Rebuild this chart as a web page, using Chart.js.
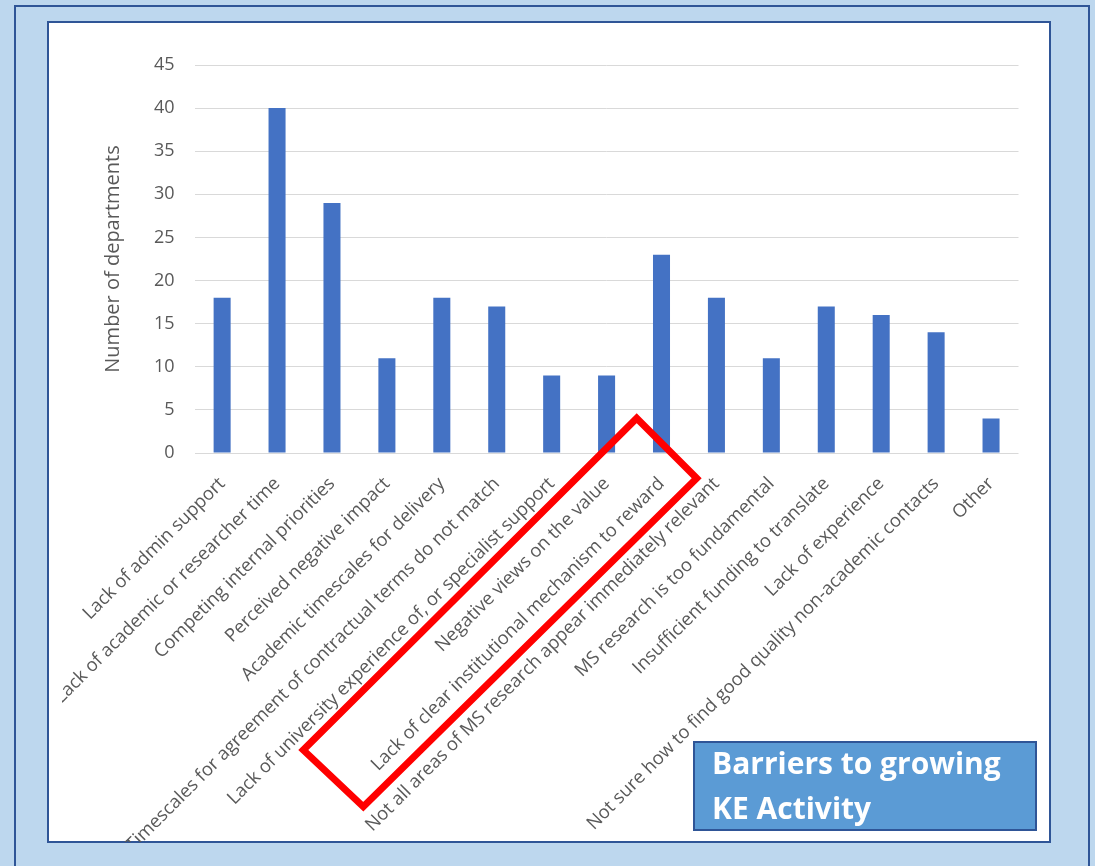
<!DOCTYPE html>
<html>
<head>
<meta charset="utf-8">
<script src="https://cdn.jsdelivr.net/npm/chart.js@4.4.1/dist/chart.umd.min.js"></script>
<style>
  html, body { margin: 0; padding: 0; }
  body { width: 1095px; height: 866px; background: #BDD7EE; position: relative; overflow: hidden; font-family: "Open Sans", sans-serif; }
  #outer { position: absolute; left: 14px; top: 5px; width: 1076px; height: 900px; border: 2px solid #2F5597; box-sizing: border-box; }
  #panel { position: absolute; left: 47px; top: 21px; width: 1004px; height: 822px; background: #fff; border: 2px solid #2F5597; box-sizing: border-box; overflow: hidden; }
  #chart { position: absolute; left: 62px; top: 24px; }
  #note { position: absolute; left: 693px; top: 741px; width: 344px; height: 90px; box-sizing: border-box;
          background: #5B9BD5; border: 2px solid #2F5597; color: #fff; font-family: "Open Sans", sans-serif;
          font-weight: bold; font-size: 30px; line-height: 45px; padding-left: 17px; }
  #note span { position: relative; top: -3px; display: block; white-space: nowrap; }
</style>
</head>
<body>
<div id="outer"></div>
<div id="panel"></div>
<canvas id="chart" width="986" height="818" style="width:986px;height:818px;"></canvas>
<div id="note"><span>Barriers to growing<br>KE Activity</span></div>
<script>
const categories = [
  "Lack of admin support",
  "Lack of academic or researcher time",
  "Competing internal priorities",
  "Perceived negative impact",
  "Academic timescales for delivery",
  "Timescales for agreement of contractual terms do not match",
  "Lack of university experience of, or specialist support",
  "Negative views on the value",
  "Lack of clear institutional mechanism to reward",
  "Not all areas of MS research appear immediately relevant",
  "MS research is too fundamental",
  "Insufficient funding to translate",
  "Lack of experience",
  "Not sure how to find good quality non-academic contacts",
  "Other"
];
const departments = [18, 40, 29, 11, 18, 17, 9, 9, 23, 18, 11, 17, 16, 14, 4];
const yTicks = [0, 5, 10, 15, 20, 25, 30, 35, 40, 45];
const yTitle = "Number of departments";

const highlightBox = {
  id: 'highlightBox',
  afterDraw(chart) {
    const ctx = chart.ctx;
    ctx.save();
    ctx.strokeStyle = '#FF0000';
    ctx.lineWidth = 7;
    ctx.lineJoin = 'miter';
    ctx.beginPath();
    ctx.moveTo(574.7, 394.3);
    ctx.lineTo(634.7, 454.3);
    ctx.lineTo(301.3, 782.7);
    ctx.lineTo(241.3, 726.0);
    ctx.closePath();
    ctx.stroke();
    ctx.restore();
  }
};

new Chart(document.getElementById('chart'), {
  type: 'bar',
  data: {
    labels: categories,
    datasets: [{
      data: departments,
      backgroundColor: '#4472C4',
      borderWidth: 0,
      categoryPercentage: 1.0,
      barPercentage: 0.31
    }]
  },
  options: {
    responsive: false,
    animation: false,
    devicePixelRatio: 1,
    layout: { padding: { top: 41, right: 29.5, left: 0, bottom: 0 } },
    plugins: { legend: { display: false }, tooltip: { enabled: false }, title: { display: false } },
    scales: {
      x: {
        grid: { display: false, drawTicks: false },
        border: { display: false },
        ticks: {
          autoSkip: false,
          maxRotation: 45,
          minRotation: 45,
          padding: 20,
          color: '#595959',
          font: { family: 'Open Sans', size: 18.4 }
        },
        afterFit(scale) { scale.height = 389; }
      },
      y: {
        min: 0,
        max: 45,
        afterBuildTicks(scale) { scale.ticks = yTicks.map(v => ({ value: v })); },
        grid: { color: '#D9D9D9', lineWidth: 1, drawTicks: false },
        border: { display: false },
        ticks: {
          padding: 20,
          color: '#595959',
          font: { family: 'Open Sans', size: 18 }
        },
        title: {
          display: true,
          text: yTitle,
          color: '#595959',
          font: { family: 'Open Sans', size: 20, weight: 'normal' },
          padding: { top: 38, bottom: 0 }
        },
        afterFit(scale) { scale.width = 131.5; }
      }
    }
  },
  plugins: [highlightBox]
});
</script>
</body>
</html>
